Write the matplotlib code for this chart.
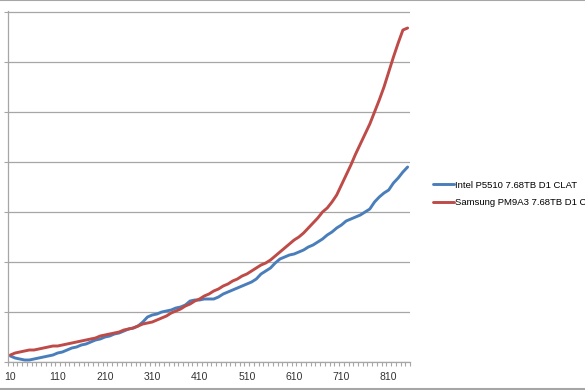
import matplotlib
matplotlib.use("Agg")
import matplotlib.pyplot as plt
from matplotlib.lines import Line2D

# queue depth / sample points along the x axis
steps = list(range(10, 860, 10))

intel = [6, 4, 3, 2, 2, 3, 4, 5, 6, 7,
         9, 10, 12, 14, 15, 17, 18, 20, 22, 23,
         25, 26, 28, 29, 31, 33, 34, 36, 40, 45,
         47, 48, 50, 51, 52, 54, 55, 57, 61, 62,
         62, 63, 63, 63, 65, 68, 70, 72, 74, 76,
         78, 80, 83, 88, 91, 94, 99, 103, 105, 107,
         108, 110, 112, 115, 117, 120, 123, 127, 130, 134,
         137, 141, 143, 145, 147, 150, 153, 160, 165, 169,
         172, 179, 184, 190, 195]

samsung = [7, 9, 10, 11, 12, 12, 13, 14, 15, 16,
           16, 17, 18, 19, 20, 21, 22, 23, 24, 26,
           27, 28, 29, 30, 32, 33, 34, 36, 38, 39,
           40, 42, 44, 46, 49, 51, 53, 56, 58, 61,
           63, 66, 68, 71, 73, 76, 78, 81, 83, 86,
           88, 91, 94, 97, 99, 102, 106, 110, 114, 118,
           122, 125, 129, 134, 139, 144, 150, 154, 160, 167,
           177, 187, 197, 208, 218, 228, 238, 250, 262, 275,
           290, 305, 319, 332, 334]

labels = ["Intel P5510 7.68TB D1 CLAT", "Samsung PM9A3 7.68TB D1 CLAT"]

plt.rcParams['font.family'] = ['Liberation Sans', 'DejaVu Sans']

fig = plt.figure(figsize=(5.85, 3.9), dpi=100)
ax = fig.add_axes([8/585, 28/390, 402/585, 351/390])

k = list(range(len(steps)))
ax.plot(k, intel, color='#4A7EBB', lw=2.1, label=labels[0], solid_capstyle='round')
ax.plot(k, samsung, color='#BE4B48', lw=2.1, label=labels[1], solid_capstyle='round')

ax.set_xlim(-0.5, len(steps) - 0.5)
ax.set_ylim(0, 351)
ax.set_yticks(range(0, 351, 50))
ax.set_yticklabels([])
ax.yaxis.grid(True, color='#A6A6A6', lw=0.9)
ax.set_axisbelow(True)

ax.set_xticks(k[::10])
ax.set_xticklabels([str(s) for s in steps[::10]], fontsize=7.5, color='#333333')
ax.set_xticks([i - 0.5 for i in range(len(steps) + 1)], minor=True)
ax.tick_params(axis='x', which='major', length=0, pad=7.5)
ax.tick_params(axis='x', which='minor', length=3, color='#A6A6A6', width=0.8)
ax.tick_params(axis='y', length=3, color='#A6A6A6', width=0.8)

for s in ['top', 'right']:
    ax.spines[s].set_visible(False)
for s in ['left', 'bottom']:
    ax.spines[s].set_color('#A6A6A6')
    ax.spines[s].set_linewidth(0.9)

fig.legend(loc='center left', bbox_to_anchor=(428/585, 1 - 194/390),
           frameon=False, fontsize=6.8, handlelength=2.3, handletextpad=0.1,
           labelspacing=0.95, borderpad=0)

# outer chart border lines (top and bottom)
fig.add_artist(Line2D([0, 1], [0.999, 0.999], color='#A6A6A6', lw=1.5, transform=fig.transFigure))
fig.add_artist(Line2D([0, 1], [1.5/390, 1.5/390], color='#A6A6A6', lw=1.5, transform=fig.transFigure))

fig.savefig('out.png', dpi=100)
